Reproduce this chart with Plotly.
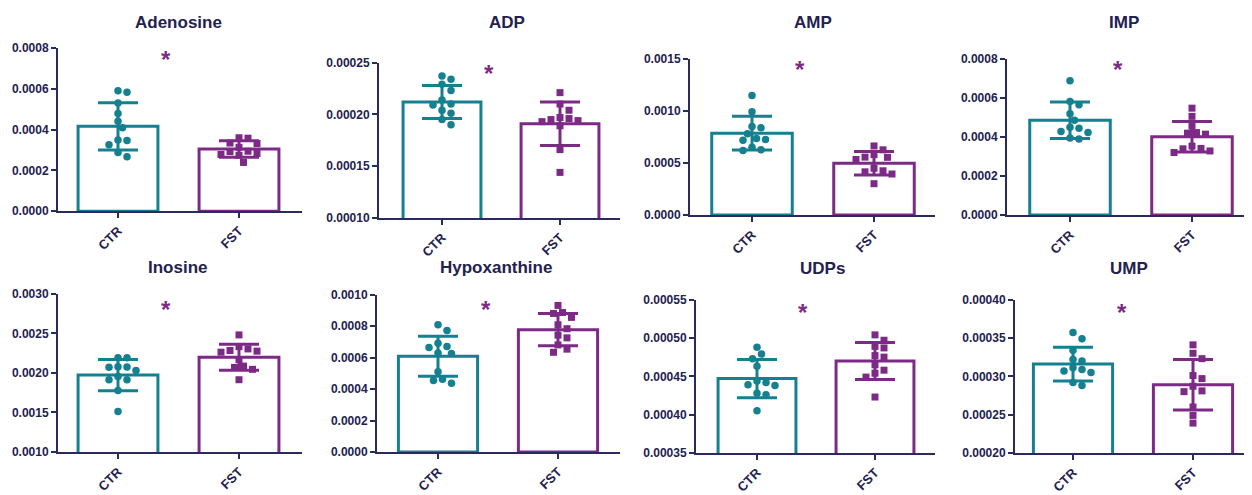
import plotly.graph_objects as go

# ---------------- data ----------------
groups = ["CTR", "FST"]
titles = ["Adenosine", "ADP", "AMP", "IMP", "Inosine", "Hypoxanthine", "UDPs", "UMP"]

adenosine_ctr = [0.000591, 0.000583, 0.000531, 0.000479, 0.000441, 0.000409, 0.000346, 0.000349, 0.000326, 0.000288, 0.000267]
adenosine_fst = [0.000360, 0.000358, 0.000334, 0.000332, 0.000313, 0.000294, 0.000292, 0.000283, 0.000278, 0.000274, 0.000239]
adp_ctr = [0.000237, 0.000234, 0.000229, 0.000223, 0.000214, 0.000210, 0.000209, 0.000204, 0.000201, 0.000195, 0.000190]
adp_fst = [0.000221, 0.000210, 0.000204, 0.000197, 0.000196, 0.000195, 0.000194, 0.000193, 0.000189, 0.000166, 0.000144]
amp_ctr = [0.001147, 0.000992, 0.000849, 0.000837, 0.000781, 0.000735, 0.000725, 0.000719, 0.000651, 0.000626, 0.000620]
amp_fst = [0.000663, 0.000626, 0.000580, 0.000556, 0.000554, 0.000533, 0.000449, 0.000425, 0.000415, 0.000394, 0.000301]
imp_ctr = [0.000687, 0.000581, 0.000565, 0.000518, 0.000485, 0.000449, 0.000444, 0.000427, 0.000422, 0.000394, 0.000389]
imp_fst = [0.000547, 0.000505, 0.000455, 0.000422, 0.000419, 0.000414, 0.000353, 0.000341, 0.000339, 0.000328, 0.000320]
inosine_ctr = [0.002193, 0.002190, 0.002078, 0.002076, 0.002070, 0.002029, 0.001955, 0.001914, 0.001912, 0.001779, 0.001512]
inosine_fst = [0.002480, 0.002332, 0.002303, 0.002283, 0.002275, 0.002262, 0.002168, 0.002086, 0.002070, 0.002045, 0.001914]
hypoxanthine_ctr = [0.000809, 0.000772, 0.000691, 0.000671, 0.000665, 0.000629, 0.000627, 0.000510, 0.000463, 0.000455, 0.000438]
hypoxanthine_fst = [0.000932, 0.000887, 0.000881, 0.000856, 0.000809, 0.000784, 0.000743, 0.000726, 0.000681, 0.000654, 0.000634]
udps_ctr = [0.000488, 0.000479, 0.000473, 0.000463, 0.000444, 0.000442, 0.000439, 0.000438, 0.000428, 0.000426, 0.000405]
udps_fst = [0.000504, 0.000497, 0.000489, 0.000487, 0.000477, 0.000475, 0.000465, 0.000458, 0.000454, 0.000449, 0.000423]
ump_ctr = [0.000357, 0.000349, 0.000334, 0.000322, 0.000320, 0.000311, 0.000309, 0.000307, 0.000305, 0.000292, 0.000288]
ump_fst = [0.000341, 0.000330, 0.000323, 0.000301, 0.000297, 0.000287, 0.000281, 0.000280, 0.000260, 0.000249, 0.000239]

mean_ctr = [0.000416, 0.000212, 0.000786, 0.000485, 0.001972, 0.000609, 0.000447, 0.000316]
sd_ctr = [0.000116, 0.000016, 0.000162, 0.000093, 0.000197, 0.000127, 0.000025, 0.000022]
mean_fst = [0.000305, 0.000191, 0.000497, 0.000401, 0.002198, 0.000778, 0.000470, 0.000289]
sd_fst = [0.000040, 0.000021, 0.000112, 0.000078, 0.000163, 0.000102, 0.000024, 0.000033]

y_min = [0.0, 0.00010, 0.0, 0.0, 0.0010, 0.0, 0.00035, 0.00020]
y_max = [0.0008, 0.00025, 0.0015, 0.0008, 0.0030, 0.0010, 0.00055, 0.00040]
y_step = [0.0002, 0.00005, 0.0005, 0.0002, 0.0005, 0.0002, 0.00005, 0.00005]
y_format = [".4f", ".5f", ".4f", ".4f", ".4f", ".4f", ".5f", ".5f"]

star_x = [0.40, 0.40, 0.39, 0.39, 0.40, 0.40, 0.39, 0.41]
star_y = [0.00075, 0.000240, 0.00141, 0.00075, 0.00285, 0.000932, 0.000539, 0.000389]

points_ctr = [adenosine_ctr, adp_ctr, amp_ctr, imp_ctr, inosine_ctr, hypoxanthine_ctr, udps_ctr, ump_ctr]
points_fst = [adenosine_fst, adp_fst, amp_fst, imp_fst, inosine_fst, hypoxanthine_fst, udps_fst, ump_fst]

# ---------------- layout geometry (page pixels) ----------------
W, H = 1252, 495
OFF = 8                     # default <body> margin of the written page
WF, HF = W - OFF, H - OFF   # figure size so that it fills the window
# axis_left, ctr_tick, fst_tick, axis_right, top, bottom, title_x, title_y
geom = [
    (58, 118, 239, 302, 42, 210, 179, 16),
    (379, 442, 560, 620, 57, 217, 507, 16),
    (690, 752, 874, 935, 53, 214, 813, 16),
    (1007, 1070, 1192, 1252, 53, 214, 1124, 16),
    (58, 118, 239, 302, 295, 458, 178, 268),
    (377, 438, 558, 620, 296, 458, 496, 268),
    (696, 757, 875, 935, 301, 459, 823, 269),
    (1015, 1073, 1193, 1252, 301, 459, 1129, 269),
]
star_shift = [-1, -1, -1, -1, -4, -4, -4, -4]

TEAL = "#15808f"
PURPLE = "#7d2a87"
NAVY = "#2b2a5e"
TEXT = "#23214f"
FONT = "Liberation Sans, Arial, sans-serif"
MS = 7.5


def fx_(px):
    return (px - OFF) / WF


def fy_(py):
    return 1 - (py - OFF) / HF


def swarm(values, ymin, ymax, height_px, px_per_unit, diam):
    """Deterministic beeswarm offsets (in category units)."""
    order = sorted(range(len(values)), key=lambda i: -values[i])
    placed = []
    offs = [0.0] * len(values)
    cands = [0.0]
    for k in range(1, 12):
        cands += [k * diam * 0.6, -k * diam * 0.6]
    for i in order:
        py = (values[i] - ymin) / (ymax - ymin) * height_px
        for c in cands:
            ok = True
            for (px2, py2) in placed:
                if (c - px2) ** 2 + (py - py2) ** 2 < (diam * 1.05) ** 2:
                    ok = False
                    break
            if ok:
                placed.append((c, py))
                offs[i] = c / px_per_unit
                break
    return offs


fig = go.Figure()
annotations = []

for p in range(8):
    al, cx, fx, ar, top, bot, tx, ty = geom[p]
    s = fx - cx
    xr = [-(cx - al) / s, 1 + (ar - fx) / s]
    xa = "x" if p == 0 else f"x{p + 1}"
    ya = "y" if p == 0 else f"y{p + 1}"
    hpx = bot - top

    for gi, (mean, sd, pts, col, sym) in enumerate([
        (mean_ctr[p], sd_ctr[p], points_ctr[p], TEAL, "circle"),
        (mean_fst[p], sd_fst[p], points_fst[p], PURPLE, "square"),
    ]):
        fig.add_trace(go.Bar(
            x=[gi], y=[mean], width=0.66, xaxis=xa, yaxis=ya,
            marker=dict(color="white", line=dict(color=col, width=3)),
            error_y=dict(type="data", array=[sd], color=col, thickness=3, width=20),
            showlegend=False, hoverinfo="skip",
        ))
        offs = swarm(pts, y_min[p], y_max[p], hpx, s, MS)
        fig.add_trace(go.Scatter(
            x=[gi + o for o in offs], y=pts, mode="markers", xaxis=xa, yaxis=ya,
            marker=dict(symbol=sym, size=MS if sym == "circle" else MS - 0.5, color=col, line=dict(width=0)),
            showlegend=False, hoverinfo="skip", cliponaxis=False,
        ))

    fig.layout[("xaxis" if p == 0 else f"xaxis{p + 1}")] = dict(
        domain=[fx_(al), min(1.0, fx_(ar))], range=xr, anchor=ya,
        tickvals=[0, 1], ticktext=groups, tickangle=-45,
        ticks="outside", ticklen=5, tickwidth=2, tickcolor=NAVY,
        showline=True, linecolor=NAVY, linewidth=2,
        showgrid=False, zeroline=False, fixedrange=True,
        tickfont=dict(family=FONT, size=13, color=TEXT, weight="bold"),
    )
    fig.layout[("yaxis" if p == 0 else f"yaxis{p + 1}")] = dict(
        domain=[fy_(bot), fy_(top)], range=[y_min[p], y_max[p]], anchor=xa,
        tick0=y_min[p], dtick=y_step[p], tickformat=y_format[p],
        ticks="outside", ticklen=5, tickwidth=2, tickcolor=NAVY,
        showline=True, linecolor=NAVY, linewidth=2,
        showgrid=False, zeroline=False, fixedrange=True,
        tickfont=dict(family=FONT, size=12, color=TEXT, weight="bold"),
    )

    annotations.append(dict(
        x=fx_(tx), y=fy_(ty), xref="paper", yref="paper",
        text=titles[p], showarrow=False, xanchor="center", yanchor="middle",
        font=dict(family=FONT, size=17, color=TEXT, weight="bold"),
    ))
    annotations.append(dict(
        x=star_x[p], y=star_y[p], xref=xa, yref=ya, text="*", showarrow=False,
        xanchor="center", yanchor="middle", yshift=star_shift[p],
        font=dict(family=FONT, size=24, color=PURPLE, weight="bold"),
    ))

fig.update_layout(
    width=WF, height=HF, margin=dict(l=0, r=0, t=0, b=0),
    paper_bgcolor="white", plot_bgcolor="white",
    annotations=annotations, barmode="overlay", showlegend=False,
)

fig.write_html("out.html")
